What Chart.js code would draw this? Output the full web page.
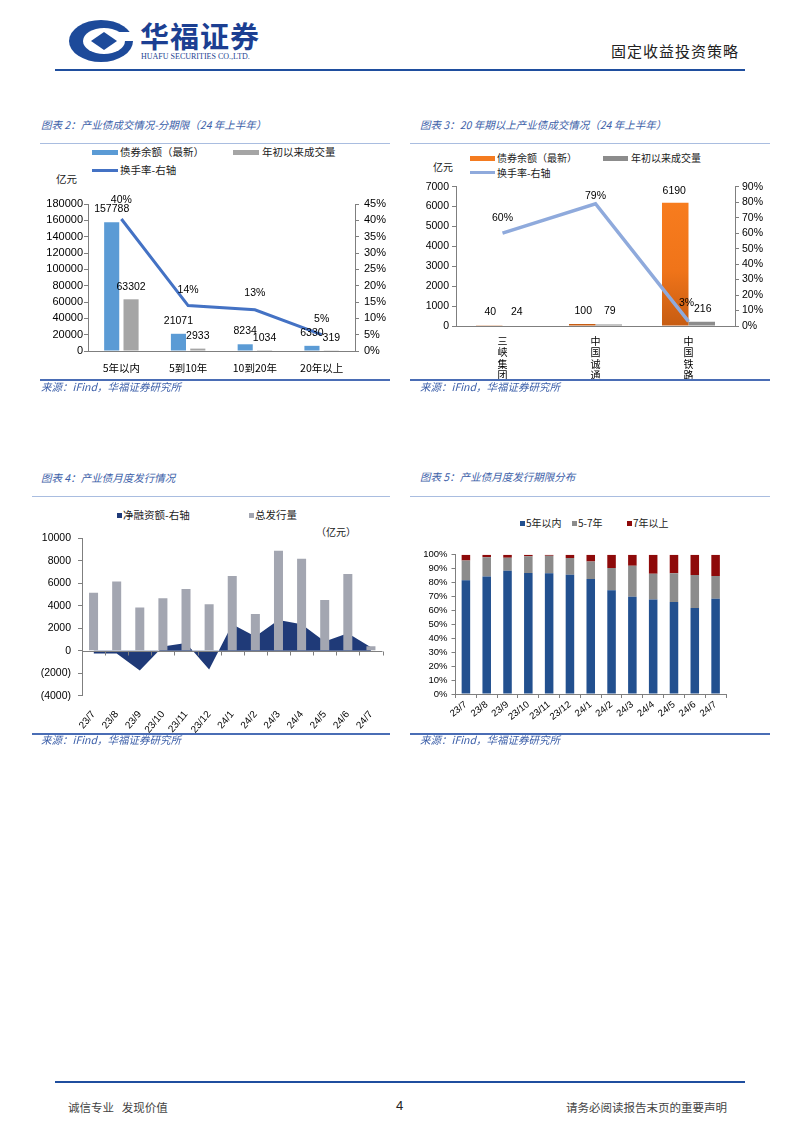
<!DOCTYPE html>
<html><head><meta charset="utf-8">
<script src="https://cdn.jsdelivr.net/npm/chart.js@4.4.1/dist/chart.umd.min.js"></script>
<style>
html,body{margin:0;padding:0;background:#fff;}
#page{position:relative;width:802px;height:1133px;overflow:hidden;background:#fff;font-family:"Noto Sans CJK SC","Liberation Sans",sans-serif;}
.abs{position:absolute;white-space:nowrap;line-height:14px;}
.title{font-size:10.5px;font-style:italic;color:#3b5ea8;}
.src{font-size:10.5px;font-style:italic;color:#3b5ea8;}
.thin{position:absolute;height:1px;background:#a9bde0;}
.thick{position:absolute;height:1.5px;background:#4a6db5;}
.leg{font-size:10.5px;color:#222;}
.mk{position:absolute;}
canvas{position:absolute;}
</style></head>
<body><div id="page">
<!-- header -->
<svg class="abs" style="left:68px;top:19px" width="68" height="44" viewBox="0 0 68 44">
  <ellipse cx="33" cy="22" rx="32" ry="21" fill="#1d4a9a"/>
  <ellipse cx="36" cy="22" rx="21" ry="13" fill="#fff"/>
  <path d="M23 22 L36 13 L49 22 L36 31 Z" fill="#1d4a9a"/>
  <rect x="50" y="13" width="18" height="9" fill="#fff"/>
</svg>
<div class="abs" style="left:140px;top:18px;font-size:29px;line-height:34px;font-weight:700;color:#1c3f92;letter-spacing:1px;">华福证券</div>
<div class="abs" style="left:141px;top:52px;font-size:8px;line-height:10px;font-family:'Liberation Serif',serif;color:#1c3f92;">HUAFU SECURITIES CO.,LTD.</div>
<div class="abs" style="left:611px;top:41px;font-size:15px;line-height:20px;color:#222;letter-spacing:1px;">固定收益投资策略</div>
<div class="thick" style="left:55px;top:69px;width:690px;height:1.5px;background:#1f4e9e;"></div>

<!-- chart 2 frame -->
<div class="abs title" style="left:41px;top:118px;">图表 2：产业债成交情况-分期限（24 年上半年）</div>
<div class="thin" style="left:40px;top:143px;width:350px;"></div>
<div class="mk" style="left:92px;top:150px;width:26px;height:5px;background:#5b9bd5;"></div>
<div class="abs leg" style="left:120px;top:145px;">债券余额（最新）</div>
<div class="mk" style="left:233px;top:150px;width:26px;height:5px;background:#a5a5a5;"></div>
<div class="abs leg" style="left:262px;top:145px;">年初以来成交量</div>
<div class="mk" style="left:92px;top:168.5px;width:26px;height:3px;background:#4472c4;"></div>
<div class="abs leg" style="left:120px;top:163px;">换手率-右轴</div>
<div class="abs leg" style="left:56px;top:172px;">亿元</div>
<canvas id="c2" width="360" height="190" style="left:40px;top:190px;width:360px;height:190px;"></canvas>
<div class="thick" style="left:40px;top:379px;width:350px;"></div>
<div class="abs src" style="left:41px;top:380px;">来源：iFind，华福证券研究所</div>

<!-- chart 3 frame -->
<div class="abs title" style="left:420px;top:118px;">图表 3：20 年期以上产业债成交情况（24 年上半年）</div>
<div class="thin" style="left:410px;top:143px;width:360px;"></div>
<div class="mk" style="left:470px;top:156px;width:25px;height:5px;background:#f47b20;"></div>
<div class="abs leg" style="left:497px;top:151px;font-size:10px;">债券余额（最新）</div>
<div class="mk" style="left:603px;top:156px;width:25px;height:5px;background:#8c8c8c;"></div>
<div class="abs leg" style="left:631px;top:151px;font-size:10px;">年初以来成交量</div>
<div class="mk" style="left:470px;top:171px;width:25px;height:3px;background:#8faadc;"></div>
<div class="abs leg" style="left:497px;top:165.5px;font-size:10px;">换手率-右轴</div>
<div class="abs leg" style="left:433px;top:159.5px;font-size:10px;">亿元</div>
<canvas id="c3" width="370" height="205" style="left:410px;top:176px;width:370px;height:205px;"></canvas>
<div class="thick" style="left:410px;top:379px;width:360px;"></div>
<div class="abs src" style="left:420px;top:380px;">来源：iFind，华福证券研究所</div>

<!-- chart 4 frame -->
<div class="abs title" style="left:41px;top:471px;">图表 4：产业债月度发行情况</div>
<div class="thin" style="left:32px;top:496px;width:358px;"></div>
<div class="mk" style="left:117px;top:512.5px;width:5px;height:5px;background:#1f3a78;"></div>
<div class="abs leg" style="left:123px;top:508px;">净融资额-右轴</div>
<div class="mk" style="left:249px;top:512.5px;width:5px;height:5px;background:#a3a6b1;"></div>
<div class="abs leg" style="left:255px;top:508px;">总发行量</div>
<div class="abs leg" style="left:316px;top:524.5px;font-size:10px;">（亿元）</div>
<canvas id="c4" width="370" height="210" style="left:30px;top:525px;width:370px;height:210px;"></canvas>
<div class="thick" style="left:32px;top:733px;width:358px;"></div>
<div class="abs src" style="left:41px;top:732.5px;">来源：iFind，华福证券研究所</div>

<!-- chart 5 frame -->
<div class="abs title" style="left:420px;top:470px;">图表 5：产业债月度发行期限分布</div>
<div class="thin" style="left:410px;top:496px;width:360px;"></div>
<div class="mk" style="left:520px;top:520.5px;width:5px;height:5px;background:#22508f;"></div>
<div class="abs leg" style="left:526px;top:516px;font-size:10px;">5年以内</div>
<div class="mk" style="left:572px;top:520.5px;width:5px;height:5px;background:#8c8c8c;"></div>
<div class="abs leg" style="left:578px;top:516px;font-size:10px;">5-7年</div>
<div class="mk" style="left:627px;top:520.5px;width:5px;height:5px;background:#8e0a0a;"></div>
<div class="abs leg" style="left:633px;top:516px;font-size:10px;">7年以上</div>
<canvas id="c5" width="370" height="190" style="left:410px;top:545px;width:370px;height:190px;"></canvas>
<div class="thick" style="left:410px;top:733px;width:360px;"></div>
<div class="abs src" style="left:420px;top:732.5px;">来源：iFind，华福证券研究所</div>

<!-- footer -->
<div class="thick" style="left:55px;top:1081px;width:690px;background:#1f4e9e;"></div>
<div class="abs" style="left:68px;top:1099px;font-size:11.5px;line-height:16px;color:#444;">诚信专业&nbsp;&nbsp;&nbsp;发现价值</div>
<div class="abs" style="left:396px;top:1098px;font-size:13px;line-height:16px;color:#222;font-family:'Liberation Sans',sans-serif;">4</div>
<div class="abs" style="left:566px;top:1099px;font-size:11.5px;line-height:16px;color:#444;">请务必阅读报告末页的重要声明</div>
</div>

<script>
// ---------- data ----------
const c2Categories = ['5年以内', '5到10年', '10到20年', '20年以上'];
const c2Balance = [157788, 21071, 8234, 6330];
const c2Volume = [63302, 2933, 1034, 319];
const c2Turnover = [40.4, 13.9, 12.6, 5.0];

const c3Categories = ['三峡集团', '中国诚通', '中国铁路'];
const c3Balance = [40, 100, 6190];
const c3Volume = [24, 79, 216];
const c3Turnover = [60, 79, 3];

const c4Months = ['23/7','23/8','23/9','23/10','23/11','23/12','24/1','24/2','24/3','24/4','24/5','24/6','24/7'];
const c4Issuance = [5150, 6160, 3850, 4660, 5500, 4140, 6650, 3270, 8900, 8180, 4520, 6820, 390];
const c4NetFinancing = [-250, -250, -1750, 380, 680, -1680, 2350, 1260, 2740, 2350, 820, 1560, 300];

const c5Months = ['23/7','23/8','23/9','23/10','23/11','23/12','24/1','24/2','24/3','24/4','24/5','24/6','24/7'];
const c5Within5 = [81.6, 84.4, 88.5, 86.8, 86.6, 85.6, 82.5, 74.4, 69.8, 67.9, 66.0, 61.7, 68.4];
const c5Five7 = [14.3, 13.7, 9.3, 12.0, 12.7, 12.0, 12.7, 16.0, 22.3, 18.4, 20.6, 23.7, 16.3];
const c5Over7 = [4.1, 1.9, 2.2, 1.2, 0.7, 2.4, 4.8, 9.6, 7.9, 13.7, 13.4, 14.6, 15.3];

// ---------- helpers ----------
const NUMFONT = "'Liberation Sans', Arial, sans-serif";
const CJKFONT = "'Noto Sans CJK SC', sans-serif";
const AXIS = '#7f7f7f';

const valueLabels = {
  id: 'valueLabels',
  afterDatasetsDraw(chart) {
    const ctx = chart.ctx;
    chart.data.datasets.forEach((ds, i) => {
      const lab = ds.valueLabels;
      if (!lab) return;
      const meta = chart.getDatasetMeta(i);
      meta.data.forEach((el, j) => {
        const v = ds.data[j];
        const dy = Array.isArray(lab.dy) ? lab.dy[j] : lab.dy;
        const dx = Array.isArray(lab.dx) ? lab.dx[j] : (lab.dx || 0);
        ctx.save();
        ctx.font = lab.font;
        ctx.fillStyle = '#000';
        ctx.textAlign = 'center';
        ctx.textBaseline = 'middle';
        ctx.fillText(lab.format(v), el.x + dx, el.y + dy);
        ctx.restore();
      });
    });
  }
};

function fixW(w) { return s => { s.width = w; }; }
function fixH(h) { return s => { s.height = h; }; }
const tickGrid = { display: true, drawOnChartArea: false, drawTicks: true, tickLength: 4, color: AXIS };
const noGrid = { display: false };
const border = { display: true, color: AXIS, width: 1 };
const baseOpts = {
  responsive: false, animation: false, maintainAspectRatio: false,
  plugins: { legend: { display: false }, tooltip: { enabled: false } },
};

// ---------- chart 2 ----------
new Chart(document.getElementById('c2'), {
  type: 'bar',
  data: {
    labels: c2Categories,
    datasets: [
      { type: 'line', label: '换手率-右轴', data: c2Turnover, yAxisID: 'y1', borderColor: '#4472c4', borderWidth: 3, pointRadius: 0, tension: 0, order: 0,
        valueLabels: { font: '10.5px ' + NUMFONT, dy: [-19, -15, -17, -16], format: v => Math.round(v) + '%' } },
      { label: '债券余额（最新）', data: c2Balance, backgroundColor: '#5b9bd5', yAxisID: 'y', barPercentage: 0.78, categoryPercentage: 0.58, order: 1,
        valueLabels: { font: '10.5px ' + NUMFONT, dy: -13, format: v => String(v) } },
      { label: '年初以来成交量', data: c2Volume, backgroundColor: '#a5a5a5', yAxisID: 'y', barPercentage: 0.78, categoryPercentage: 0.58, order: 2,
        valueLabels: { font: '10.5px ' + NUMFONT, dy: -12.5, format: v => String(v) } }
    ]
  },
  options: Object.assign({}, baseOpts, {
    layout: { padding: { top: 14, left: 0, right: 0, bottom: 0 } },
    scales: {
      x: { grid: noGrid, border: border, afterFit: fixH(29),
           ticks: { color: '#000', font: { family: CJKFONT, size: 10.5 }, padding: 3, maxRotation: 0, autoSkip: false } },
      y: { position: 'left', min: 0, max: 180000, grid: tickGrid, border: border, afterFit: fixW(48),
           ticks: { stepSize: 20000, autoSkip: false, color: '#000', font: { family: NUMFONT, size: 11 }, padding: 1, callback: v => String(v) } },
      y1: { position: 'right', min: 0, max: 45, grid: tickGrid, border: border, afterFit: fixW(45),
           ticks: { stepSize: 5, autoSkip: false, color: '#000', font: { family: NUMFONT, size: 11 }, padding: 5, callback: v => v + '%' } }
    }
  }),
  plugins: [valueLabels]
});

// ---------- chart 3 ----------
function orangeGrad(c) {
  const ch = c.chart, ca = ch.chartArea;
  if (!ca) return '#f47b20';
  const g = ch.ctx.createLinearGradient(0, ca.top, 0, ca.bottom);
  g.addColorStop(0, '#f97e1f');
  g.addColorStop(0.6, '#f07419');
  g.addColorStop(1, '#c65c12');
  return g;
}
new Chart(document.getElementById('c3'), {
  type: 'bar',
  data: {
    labels: c3Categories.map(s => s.split('')),
    datasets: [
      { type: 'line', label: '换手率-右轴', data: c3Turnover, yAxisID: 'y1', borderColor: '#8faadc', borderWidth: 3.5, pointRadius: 0, tension: 0, order: 0,
        valueLabels: { font: '10.5px ' + NUMFONT, dy: [-15, -8, -18], dx: [0, 0, -2], format: v => v + '%' } },
      { label: '债券余额（最新）', data: c3Balance, backgroundColor: orangeGrad, yAxisID: 'y', barPercentage: 1.0, categoryPercentage: 0.57, order: 1,
        valueLabels: { font: '10.5px ' + NUMFONT, dy: [-13.5, -13, -12], dx: [1, 1, -1], format: v => String(v) } },
      { label: '年初以来成交量', data: c3Volume, backgroundColor: '#8c8c8c', yAxisID: 'y', barPercentage: 1.0, categoryPercentage: 0.57, order: 2,
        valueLabels: { font: '10.5px ' + NUMFONT, dy: -13, dx: 1, format: v => String(v) } }
    ]
  },
  options: Object.assign({}, baseOpts, {
    layout: { padding: { top: 10.7, left: 0, right: 0, bottom: 0 } },
    scales: {
      x: { grid: noGrid, border: border, afterFit: fixH(55),
           ticks: { color: '#000', font: { family: CJKFONT, size: 10, lineHeight: 1.15 }, padding: 1, maxRotation: 0, autoSkip: false } },
      y: { position: 'left', min: 0, max: 7000, grid: tickGrid, border: border, afterFit: fixW(46),
           ticks: { stepSize: 1000, autoSkip: false, color: '#000', font: { family: NUMFONT, size: 10.5 }, padding: 3, callback: v => String(v) } },
      y1: { position: 'right', min: 0, max: 90, grid: tickGrid, border: border, afterFit: fixW(45),
           ticks: { stepSize: 10, autoSkip: false, color: '#000', font: { family: NUMFONT, size: 10.5 }, padding: 3, callback: v => v + '%' } }
    }
  }),
  plugins: [valueLabels]
});

// ---------- chart 4 ----------
const zeroAxis = {
  id: 'zeroAxis',
  afterDatasetsDraw(chart) {
    const { ctx, chartArea, scales: { x, y } } = chart;
    const y0 = Math.round(y.getPixelForValue(0)) + 0.5;
    ctx.save();
    ctx.strokeStyle = AXIS;
    ctx.lineWidth = 1;
    ctx.beginPath();
    ctx.moveTo(chartArea.left, y0);
    ctx.lineTo(chartArea.right, y0);
    for (let i = 0; i <= x.ticks.length; i++) {
      const px = Math.round(x.getPixelForValue(i - 0.5)) + 0.5;
      ctx.moveTo(px, y0);
      ctx.lineTo(px, y0 + 4);
    }
    ctx.stroke();
    ctx.restore();
  }
};
new Chart(document.getElementById('c4'), {
  type: 'bar',
  data: {
    labels: c4Months,
    datasets: [
      { label: '总发行量', data: c4Issuance, backgroundColor: '#a3a6b1', barPercentage: 0.78, categoryPercentage: 0.5, order: 0 },
      { type: 'line', label: '净融资额-右轴', data: c4NetFinancing, fill: 'origin', backgroundColor: '#1f3a78', borderWidth: 0, borderColor: '#1f3a78', pointRadius: 0, tension: 0, order: 1 }
    ]
  },
  options: Object.assign({}, baseOpts, {
    layout: { padding: { top: 9, left: 0, right: 17.5, bottom: 0 } },
    scales: {
      x: { grid: noGrid, border: { display: false }, afterFit: fixH(39.3),
           ticks: { color: '#000', font: { family: NUMFONT, size: 10 }, padding: 5, minRotation: 50, maxRotation: 50, autoSkip: false } },
      y: { min: -4000, max: 10000, grid: tickGrid, border: border, afterFit: fixW(52),
           ticks: { stepSize: 2000, autoSkip: false, color: '#000', font: { family: NUMFONT, size: 10.5 }, padding: 7, callback: v => v < 0 ? '(' + Math.abs(v) + ')' : String(v) } }
    }
  }),
  plugins: [zeroAxis]
});

// ---------- chart 5 ----------
new Chart(document.getElementById('c5'), {
  type: 'bar',
  data: {
    labels: c5Months,
    datasets: [
      { label: '5年以内', data: c5Within5, backgroundColor: '#22508f', barPercentage: 0.82, categoryPercentage: 0.5 },
      { label: '5-7年', data: c5Five7, backgroundColor: '#8c8c8c', barPercentage: 0.82, categoryPercentage: 0.5 },
      { label: '7年以上', data: c5Over7, backgroundColor: '#8e0a0a', barPercentage: 0.82, categoryPercentage: 0.5 }
    ]
  },
  options: Object.assign({}, baseOpts, {
    layout: { padding: { top: 8.3, left: 0, right: 54, bottom: 0 } },
    scales: {
      x: { stacked: true, grid: { display: true, drawOnChartArea: false, tickLength: 4, color: AXIS, offset: true }, border: border, afterFit: fixH(41),
           ticks: { color: '#000', font: { family: NUMFONT, size: 9.5 }, padding: 1, minRotation: 38, maxRotation: 38, autoSkip: false } },
      y: { stacked: true, min: 0, max: 100, grid: tickGrid, border: border, afterFit: fixW(45.5),
           ticks: { stepSize: 10, autoSkip: false, color: '#000', font: { family: NUMFONT, size: 9.5 }, padding: 4, callback: v => v + '%' } }
    }
  })
});
</script>
</body></html>
